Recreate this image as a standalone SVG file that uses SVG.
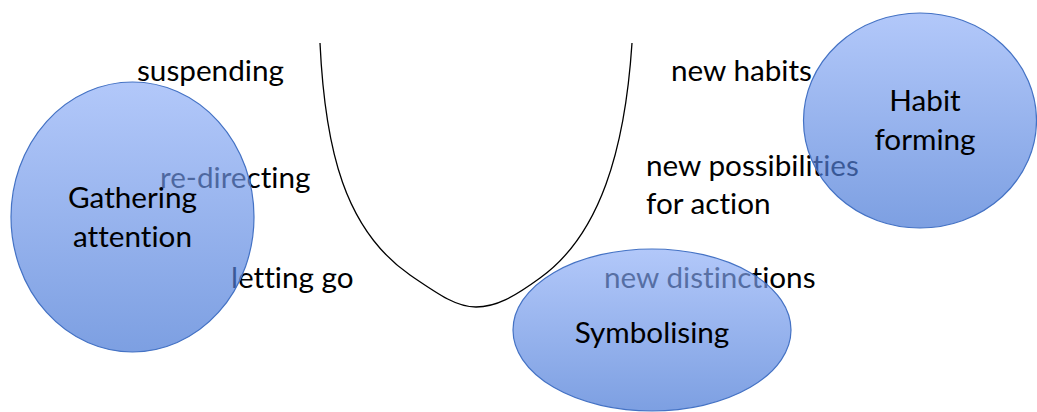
<svg xmlns="http://www.w3.org/2000/svg" width="1037" height="412" viewBox="0 0 1037 412">
<style>
  text { font-family: Lato, "Liberation Sans", sans-serif; font-size: 29.7px; fill: #000; font-variant-ligatures: none; }
  .blob { fill: url(#g); fill-opacity: 0.68; stroke: #4472c4; stroke-width: 1.2; }
  .mid { text-anchor: middle; }
</style>
<defs>
  <linearGradient id="g" x1="0" y1="0" x2="0" y2="1">
    <stop offset="0" stop-color="#8eaef7"/>
    <stop offset="1" stop-color="#3f72d4"/>
  </linearGradient>
</defs>
<rect width="1037" height="412" fill="#fff"/>
<g id="connectors">
  <path d="M320,43 C325,150 345,230 410,275 C438,294 456,307 476,307 C496,307 514,297 540,278 C600,235 625,150 632,43" fill="none" stroke="#000" stroke-width="1.3"/>
</g>
<g id="labels">
  <text x="137" y="81">suspending</text>
  <text x="160" y="188">re-directing</text>
  <text x="231" y="288">letting go</text>
  <text x="671" y="81">new habits</text>
  <text x="646" y="176">new possibilities</text>
  <text x="646" y="214">for action</text>
  <text x="604" y="288">new distinctions</text>
</g>
<g id="gathering">
  <ellipse class="blob" cx="132.5" cy="217" rx="121.5" ry="135"/>
  <text class="mid" x="132.5" y="208">Gathering</text>
  <text class="mid" x="132.5" y="247">attention</text>
</g>
<g id="symbolising">
  <ellipse class="blob" cx="652" cy="330" rx="139" ry="81"/>
  <text class="mid" x="652" y="343">Symbolising</text>
</g>
<g id="habit">
  <ellipse class="blob" cx="920" cy="120.5" rx="116.5" ry="107.5"/>
  <text class="mid" x="925" y="111">Habit</text>
  <text class="mid" x="925" y="150">forming</text>
</g>
</svg>
